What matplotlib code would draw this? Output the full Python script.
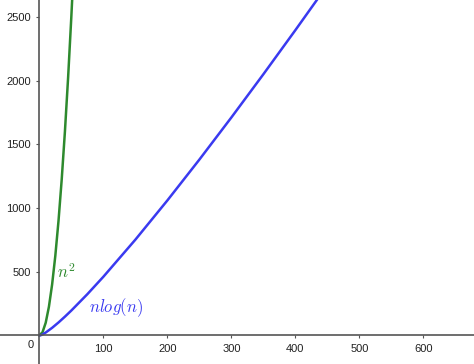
import matplotlib
matplotlib.use("Agg")
import matplotlib.pyplot as plt

# n^2 curve samples
sq_n = [0, 5, 10, 15, 20, 25, 30, 35, 40, 45, 50, 52]
sq_v = [0, 25, 100, 225, 400, 625, 900, 1225, 1600, 2025, 2500, 2704]

# n log(n) curve samples
nl_n = [0, 1, 2, 5, 10, 20, 30, 40, 50, 75, 100, 150, 200, 250, 300, 350, 400, 450]
nl_v = [0, 0, 1.4, 8.0, 23.0, 59.9, 102, 147.6, 195.6, 323.8, 460.5, 751.6,
        1059.7, 1380.3, 1711.1, 2050.3, 2396.6, 2749.1]

x_ticks = [100, 200, 300, 400, 500, 600]
y_ticks = [500, 1000, 1500, 2000, 2500]

plt.rcParams['font.family'] = ['Liberation Sans', 'DejaVu Sans']
plt.rcParams['mathtext.fontset'] = 'cm'

fig = plt.figure(figsize=(4.74, 3.64), dpi=100)
ax = fig.add_axes([0, 0, 1, 1])
ax.set_xlim(-61.4, 679)
ax.set_ylim(-224, 2633)

ax.plot(sq_n, sq_v, color='#2e8a2e', lw=1.8, solid_capstyle='round')
ax.plot(nl_n, nl_v, color='#3a3af0', lw=1.8, solid_capstyle='round')

for s in ['top', 'right']:
    ax.spines[s].set_visible(False)
for s in ['left', 'bottom']:
    ax.spines[s].set_position('zero')
    ax.spines[s].set_color('#555555')
    ax.spines[s].set_linewidth(1.2)

ax.set_xticks(x_ticks)
ax.set_yticks(y_ticks)
ax.tick_params(axis='both', direction='out', length=2.5, width=0.8,
               color='#555555', labelsize=8, labelcolor='#222222', pad=3.5)
ax.text(-14, -72, '0', ha='center', va='center', fontsize=8, color='#222222')

ax.text(28, 500, r'$n^2$', color='#2e8a2e', fontsize=12, ha='left', va='center')
ax.text(78, 222, r'$nlog(n)$', color='#3a3af0', fontsize=12, ha='left', va='center')

fig.savefig('out.png', dpi=100)
